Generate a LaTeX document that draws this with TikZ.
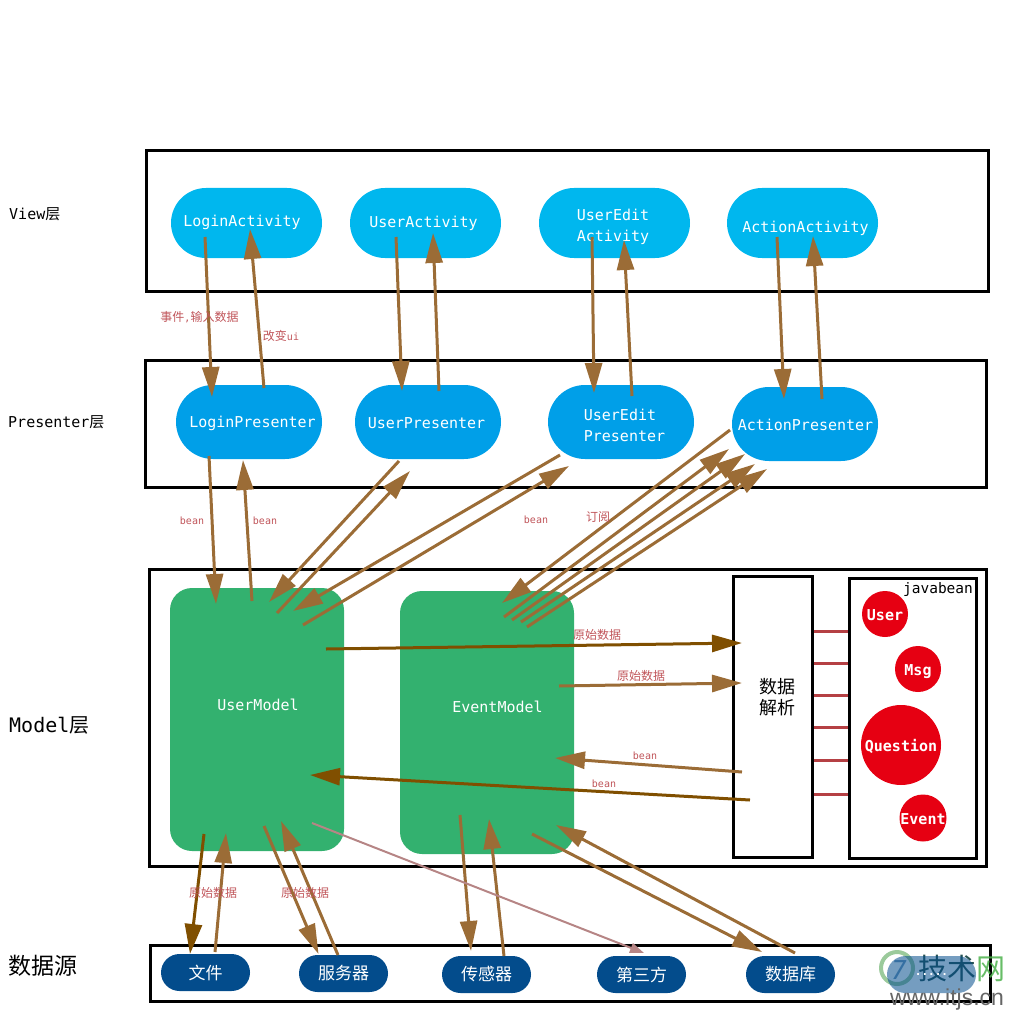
\documentclass[tikz,border=0pt]{standalone}
\usepackage{fontspec}
\usetikzlibrary{arrows.meta,shapes.misc}
\setmainfont{DejaVu Sans Mono}
\newfontfamily\cjk{Noto Sans CJK SC}
\newfontfamily\cjknote[Scale=1.2]{Noto Sans CJK SC}
\definecolor{activity color}{HTML}{00B7EE}
\definecolor{presenter color}{HTML}{009FE8}
\definecolor{model color}{HTML}{33B16F}
\definecolor{source color}{HTML}{034C8C}
\definecolor{bean color}{HTML}{E60012}
\definecolor{flow color}{HTML}{9B6C36}
\definecolor{strong flow color}{HTML}{804F00}
\definecolor{weak flow color}{HTML}{B68585}
\definecolor{note color}{HTML}{C0555A}
\definecolor{link color}{HTML}{B54044}
\tikzset{
    x={1pt},
    y={-1pt},
    layer/.style={
        draw=black,
        line width={3pt},
    },
    layer label/.style={
        anchor=west,
        inner sep=0pt,
        font={\fontsize{#1}{#1}\selectfont},
    },
    inner text/.style n args={3}{
        label={[text=white, align=left, inner sep=0pt,
                font={\fontsize{15}{21}\selectfont},
                shift={(#1,#2)}]center:#3},
    },
    pill/.style={
        rounded rectangle,
        fill={#1},
        text=white,
        inner sep=0pt,
    },
    activity/.style={
        pill={activity color},
        minimum width={151},
        minimum height={70},
    },
    presenter/.style={
        pill={presenter color},
        minimum width={146},
        minimum height={74},
    },
    source/.style={
        pill={source color},
        minimum width={89},
        minimum height={37},
        font={\fontsize{17}{17}\selectfont\cjk},
    },
    model/.style={
        fill=model color,
        rounded corners={22pt},
        inner sep=0pt,
        minimum width={174},
        minimum height={263},
    },
    bean/.style={
        circle,
        fill=bean color,
        text=white,
        inner sep=0pt,
        text height=13pt,
        text depth=0pt,
        minimum size={#1},
        font={\fontsize{15}{17}\selectfont\bfseries},
    },
    bean/.default={46},
    flow/.style={
        draw={#1},
        line width={3pt},
        -{Triangle[length=30pt,width=17pt,fill={#1}]},
    },
    flow/.default={flow color},
    link/.style={
        draw=link color,
        line width={3pt},
    },
    note/.style={
        text=note color,
        inner sep=0pt,
        font={\fontsize{10}{12}\selectfont},
    },
}
\begin{document}
\begin{tikzpicture}
\useasboundingbox (0,0) rectangle (1024,1024);
% layers
\node[layer, minimum width={842}, minimum height={140}] (viewlayer) at (567,221) {};
\node[layer, minimum width={841}, minimum height={127}] (presenterlayer) at (565.5,423.5) {};
\node[layer, minimum width={837}, minimum height={297}] (modellayer) at (567.5,717.5) {};
\node[layer, minimum width={840}, minimum height={56}] (sourcelayer) at (570,973) {};
\node[layer label=15] (viewlabel) at (9,214) {View{\cjk 层}};
\node[layer label=15] (presenterlabel) at (8,422) {Presenter{\cjk 层}};
\node[layer label=20] (modellabel) at (9,725) {Model{\cjk 层}};
\node[layer label=23] (sourcelabel) at (8,966) {\cjk 数据源};
% view
\node[activity, inner text={-4.5}{-1}{LoginActivity}] (loginactivity) at (246.5,223) {};
\node[activity, inner text={-2}{0}{UserActivity}] (useractivity) at (425.5,223) {};
\node[activity, inner text={-1.5}{3.5}{UserEdit\\Activity}] (editactivity) at (614.5,223) {};
\node[activity, inner text={3}{5}{ActionActivity}] (actionactivity) at (802.5,223) {};
% presenter
\node[presenter, inner text={3.5}{1.5}{LoginPresenter}] (loginpresenter) at (249,422) {};
\node[presenter, inner text={-1.5}{1.5}{UserPresenter}] (userpresenter) at (428,422) {};
\node[presenter, inner text={3.5}{3}{UserEdit\\Presenter}] (editpresenter) at (621,422) {};
\node[presenter, inner text={0.5}{0.5}{ActionPresenter}] (actionpresenter) at (805,424) {};
% model
\node[model, inner text={1}{-15}{UserModel}] (usermodel) at (257,719.5) {};
\node[model, inner text={10.5}{-16}{EventModel}] (eventmodel) at (487,722.5) {};
\node[layer, minimum width={79}, minimum height={281},
    label={[align=center, inner sep=0pt, font={\fontsize{18}{21}\selectfont\cjk},
        shift={(5,-19.5)}]center:数据\\解析}] (parser) at (772.5,716.5) {};
\node[layer, minimum width={127}, minimum height={280}] (beanbox) at (912.5,718) {};
\node[inner sep=0pt, font={\fontsize{14.5}{14.5}\selectfont}] (beanlabel) at (938,589) {javabean};
\node[bean] (userbean) at (885,614) {User};
\node[bean] (msgbean) at (918,669) {Msg};
\node[bean=80] (questionbean) at (901,745) {Question};
\node[bean] (eventbean) at (923,818) {Event};
\foreach \ypos in {631,663,695,727,760,794} {
    \path[link] (parser.east |- 0,\ypos) -- (beanbox.west |- 0,\ypos);
}
% sources
\node[source] (filesource) at (205.5,972.5) {文件};
\node[source] (serversource) at (343.5,973.5) {服务器};
\node[source] (sensorsource) at (486.5,974.5) {传感器};
\node[source] (thirdsource) at (641.5,974.5) {第三方};
\node[source] (dbsource) at (790.5,974.5) {数据库};
\node[circle, draw=green!30!gray, line width={4pt}, opacity=0.6, minimum size={32}, inner sep=0pt] (markring) at (897,968) {};
% view - presenter
\draw[flow] ([shift={(-41.5,14)}]loginactivity.center) -- ([shift={(-37,-25)}]loginpresenter.center);
\draw[flow] ([shift={(15,-34)}]loginpresenter.center) -- ([shift={(3.5,6)}]loginactivity.center);
\draw[flow] ([shift={(-29.5,14)}]useractivity.center) -- ([shift={(-26,-31)}]userpresenter.center);
\draw[flow] ([shift={(11,-31)}]userpresenter.center) -- ([shift={(7.5,10)}]useractivity.center);
\draw[flow] ([shift={(-22.5,14)}]editactivity.center) -- ([shift={(-27,-29)}]editpresenter.center);
\draw[flow] ([shift={(11,-26)}]editpresenter.center) -- ([shift={(9.5,17)}]editactivity.center);
\draw[flow] ([shift={(-25.5,14)}]actionactivity.center) -- ([shift={(-21,-25)}]actionpresenter.center);
\draw[flow] ([shift={(17,-25)}]actionpresenter.center) -- ([shift={(10.5,13)}]actionactivity.center);
% presenter - model
\draw[flow] ([shift={(-40,34)}]loginpresenter.center) -- ([shift={(-41,-115.5)}]usermodel.center);
\draw[flow] ([shift={(-5,-118.5)}]usermodel.center) -- ([shift={(-6,38)}]loginpresenter.center);
\draw[flow] ([shift={(-29,39)}]userpresenter.center) -- ([shift={(12,-117.5)}]usermodel.center);
\draw[flow] ([shift={(20,-106.5)}]usermodel.center) -- ([shift={(-18,49)}]userpresenter.center);
\draw[flow] ([shift={(-61,33)}]editpresenter.center) -- ([shift={(36,-108.5)}]usermodel.center);
\draw[flow] ([shift={(46,-94.5)}]usermodel.center) -- ([shift={(-52,44)}]editpresenter.center);
\draw[flow] ([shift={(-75,6)}]actionpresenter.center) -- ([shift={(15,-119.5)}]eventmodel.center);
\draw[flow] ([shift={(17,-105.5)}]eventmodel.center) -- ([shift={(-76,25)}]actionpresenter.center);
\draw[flow] ([shift={(25,-102.5)}]eventmodel.center) -- ([shift={(-60,30)}]actionpresenter.center);
\draw[flow] ([shift={(34,-100.5)}]eventmodel.center) -- ([shift={(-50,40)}]actionpresenter.center);
\draw[flow] ([shift={(40,-95.5)}]eventmodel.center) -- ([shift={(-38,45)}]actionpresenter.center);
% model - parser
\draw[flow={strong flow color}] ([shift={(69,-70.5)}]usermodel.center) -- ([shift={(-30.5,-73.5)}]parser.center);
\draw[flow] ([shift={(72,-36.5)}]eventmodel.center) -- ([shift={(-30.5,-33.5)}]parser.center);
\draw[flow] ([shift={(-30.5,55.5)}]parser.center) -- ([shift={(68,35.5)}]eventmodel.center);
\draw[flow={strong flow color}] ([shift={(-22.5,83.5)}]parser.center) -- ([shift={(53,55.5)}]usermodel.center);
% model - sources
\draw[flow={strong flow color}] ([shift={(-53,114.5)}]usermodel.center) -- ([shift={(-15.5,-18.5)}]filesource.center);
\draw[flow] ([shift={(9.5,-20.5)}]filesource.center) -- ([shift={(-31,113.5)}]usermodel.center);
\draw[flow] ([shift={(7,106.5)}]usermodel.center) -- ([shift={(-25,-19.5)}]serversource.center);
\draw[flow] ([shift={(-5.5,-18.5)}]serversource.center) -- ([shift={(24,101.5)}]usermodel.center);
\draw[flow] ([shift={(-27,92.5)}]eventmodel.center) -- ([shift={(-15.5,-23.5)}]sensorsource.center);
\draw[flow] ([shift={(17.5,-18.5)}]sensorsource.center) -- ([shift={(2,96.5)}]eventmodel.center);
\draw[flow] ([shift={(45,111.5)}]eventmodel.center) -- ([shift={(-28.5,-22.5)}]dbsource.center);
\draw[flow] ([shift={(4.5,-21.5)}]dbsource.center) -- ([shift={(69,102.5)}]eventmodel.center);
\draw[draw=weak flow color, line width={2pt}, -{Triangle[length=14pt,width=10pt,fill=weak flow color]}] ([shift={(55,103.5)}]usermodel.center) -- ([shift={(2.5,-21.5)}]thirdsource.center);
% notes
\node[note] (inputnote) at (199.5,317) {{\cjknote 事件},{\cjknote 输入数据}};
\node[note] (uinote) at (281,336) {{\cjknote 改变}ui};
\node[note] (beannotea) at (192,521) {bean};
\node[note] (beannoteb) at (265,521) {bean};
\node[note] (beannotec) at (536,520) {bean};
\node[note] (subscribenote) at (598,517) {\cjknote 订阅};
\node[note] (rawnotea) at (597,635) {\cjknote 原始数据};
\node[note] (rawnoteb) at (641,676) {\cjknote 原始数据};
\node[note] (beannoted) at (645,756) {bean};
\node[note] (beannotee) at (604,784) {bean};
\node[note] (rawnotec) at (213,893) {\cjknote 原始数据};
\node[note] (rawnoted) at (305,893) {\cjknote 原始数据};
% watermark
\node[inner sep=0pt, text=source color!70!white, opacity=0.8, font={\fontsize{26}{26}\selectfont\itshape}] (markseven) at (899,970) {7};
\node[inner sep=0pt, anchor=west, text=black!60!teal, opacity=0.85, font={\fontsize{29}{29}\selectfont\cjk}] (marktext) at (918,968) {技术{\color{green!40!gray}网}};
\node[source, opacity=0.55, text opacity=1, font={\fontsize{11}{11}\selectfont\bfseries}] (marksource) at (931.5,974.5) {.....};
\node[inner sep=0pt, anchor=west, text=black!60, font={\fontsize{23}{23}\selectfont\fontspec{Liberation Sans}}] (markurl) at (890,1000) {www.itjs.cn};
\end{tikzpicture}
\end{document}
